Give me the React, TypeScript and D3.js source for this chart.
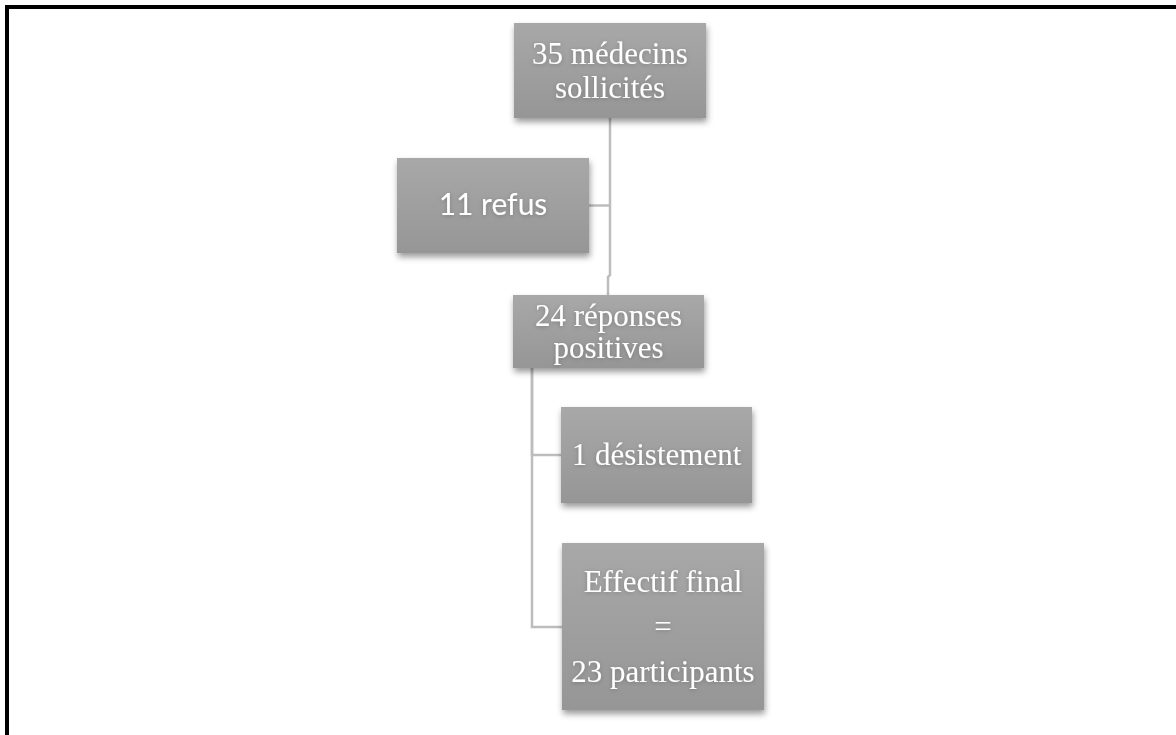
import React, { useRef, useEffect } from "react";
import * as d3 from "d3";

// flow-chart content
const nodeIds = ["sollicites", "refus", "positives", "desistement", "final"];
const nodeLines = [
  ["35 médecins", "sollicités"],
  ["11 refus"],
  ["24 réponses", "positives"],
  ["1 désistement"],
  ["Effectif final", "=", "23 participants"],
];
const nodeParents = [null, "sollicites", "sollicites", "positives", "positives"];
const nodeFonts = ["serif", "sans", "serif", "serif", "serif"];

// layout (pixels), kept apart from the data
const boxes: Record<string, { x: number; y: number; w: number; h: number; lh: number }> = {
  sollicites: { x: 514, y: 23, w: 192, h: 95, lh: 34 },
  refus: { x: 397, y: 158, w: 192, h: 95, lh: 36 },
  positives: { x: 513, y: 295, w: 191, h: 73, lh: 32 },
  desistement: { x: 561, y: 407, w: 191, h: 96, lh: 36 },
  final: { x: 562, y: 543, w: 202, h: 167, lh: 45 },
};

const App: React.FC = () => {
  const svgRef = useRef<SVGSVGElement | null>(null);

  useEffect(() => {
    const width = 1176;
    const height = 735;
    const svg = d3.select(svgRef.current!);
    svg.selectAll("*").remove();

    const defs = svg.append("defs");
    const grad = defs
      .append("linearGradient")
      .attr("id", "boxFill")
      .attr("x1", 0)
      .attr("y1", 0)
      .attr("x2", 0)
      .attr("y2", 1);
    grad.append("stop").attr("offset", "0%").attr("stop-color", "#a8a8a8");
    grad.append("stop").attr("offset", "100%").attr("stop-color", "#969696");

    const shadow = defs
      .append("filter")
      .attr("id", "boxShadow")
      .attr("x", "-20%")
      .attr("y", "-20%")
      .attr("width", "140%")
      .attr("height", "150%");
    shadow
      .append("feDropShadow")
      .attr("dx", 1)
      .attr("dy", 4)
      .attr("stdDeviation", 3)
      .attr("flood-color", "#000")
      .attr("flood-opacity", 0.4);

    const textShadow = defs
      .append("filter")
      .attr("id", "textShadow")
      .attr("x", "-10%")
      .attr("y", "-30%")
      .attr("width", "120%")
      .attr("height", "160%");
    textShadow
      .append("feDropShadow")
      .attr("dx", 0)
      .attr("dy", 1)
      .attr("stdDeviation", 2)
      .attr("flood-color", "#000")
      .attr("flood-opacity", 0.22);

    svg.append("rect").attr("width", width).attr("height", height).attr("fill", "#fff");

    // frame (top + left)
    svg
      .append("path")
      .attr("d", d3.line()([[7, height], [7, 7], [width, 7]]))
      .attr("fill", "none")
      .attr("stroke", "#000")
      .attr("stroke-width", 4);

    const nodes = nodeIds.map((id, i) => ({
      id,
      lines: nodeLines[i],
      parent: nodeParents[i],
      font: nodeFonts[i],
      ...boxes[id],
    }));
    const byId = new Map(nodes.map((n) => [n.id, n]));

    // connectors: parent trunk -> child side
    const linkGen = d3.line();
    const links = svg.append("g").attr("fill", "none").attr("stroke", "#bdbdbd").attr("stroke-width", 2.5);
    nodes.forEach((n) => {
      if (!n.parent) return;
      const p = byId.get(n.parent)!;
      const cy = n.y + n.h / 2;
      if (p.id === "sollicites") {
        const tx = p.x + p.w / 2;
        if (n.x + n.w < tx) {
          links.append("path").attr("d", linkGen([[n.x + n.w, cy], [tx, cy]]));
        } else {
          links.append("path").attr("d", linkGen([[tx, p.y + p.h], [tx, n.y - 20], [tx - 2, n.y - 18], [tx - 2, n.y]]));
        }
      } else {
        const tx = p.x + 19;
        const ly = n.id === "final" ? n.y + 84 : cy;
        links.append("path").attr("d", linkGen([[tx, p.y + p.h], [tx, ly], [n.x, ly]]));
      }
    });

    const g = svg
      .append("g")
      .selectAll("g")
      .data(nodes)
      .join("g")
      .attr("transform", (d) => `translate(${d.x},${d.y})`);

    g.append("rect")
      .attr("width", (d) => d.w)
      .attr("height", (d) => d.h)
      .attr("fill", "url(#boxFill)")
      .attr("filter", "url(#boxShadow)");

    g.each(function (d) {
      const sel = d3.select(this);
      const n = d.lines.length;
      const fontSize = d.font === "sans" ? 30 : 31;
      const t = sel
        .append("text")
        .attr("text-anchor", "middle")
        .attr("fill", "#fff")
        .attr("filter", "url(#textShadow)")
        .style("font-family", d.font === "sans" ? "Lato, 'Liberation Sans', sans-serif" : "'Liberation Serif', 'DejaVu Serif', serif")
        .style("font-size", `${fontSize}px`);
      d.lines.forEach((line, i) => {
        const y = d.h / 2 + (i - (n - 1) / 2) * d.lh + fontSize * 0.33;
        t.append("tspan").attr("x", d.w / 2).attr("y", y).text(line);
      });
    });
  }, []);

  return (
    <svg
      ref={svgRef}
      width={1176}
      height={735}
      style={{ position: "absolute", left: 0, top: 0, display: "block" }}
    />
  );
};

export default App;
